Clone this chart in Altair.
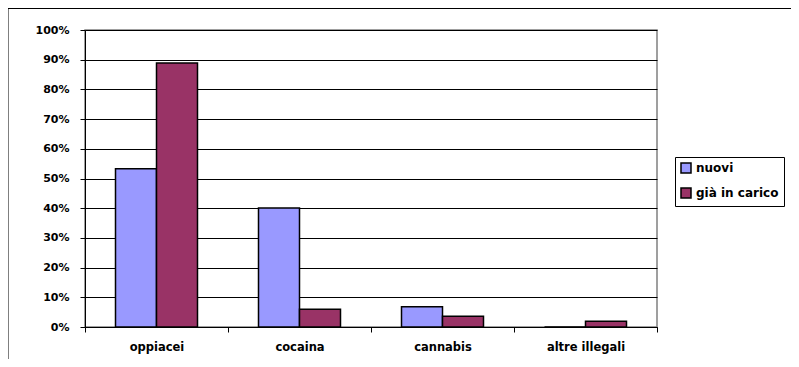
import altair as alt
import pandas as pd

categories = ["oppiacei", "cocaina", "cannabis", "altre illegali"]
series = ["nuovi", "già in carico"]
nuovi = [0.533, 0.401, 0.068, 0.0]
gia = [0.889, 0.060, 0.036, 0.019]
colors = ["#9999FF", "#993366"]
y_ticks = [i / 10 for i in range(11)]

rows = []
for c, a, b in zip(categories, nuovi, gia):
    rows.append({"categoria": c, "serie": series[0], "valore": a})
    rows.append({"categoria": c, "serie": series[1], "valore": b})
df = pd.DataFrame(rows)

FONT = "DejaVu Sans"

frame = alt.Chart(pd.DataFrame({"a": [0]})).mark_rect(
    fill="white", fillOpacity=0, stroke="black", strokeWidth=1
).encode(
    x=alt.value(-77), x2=alt.value(740), y=alt.value(-21.5), y2=alt.value(360)
)

bars = alt.Chart(df).mark_bar(stroke="black", strokeWidth=1.5).encode(
    x=alt.X(
        "categoria:N",
        sort=categories,
        title=None,
        scale=alt.Scale(paddingInner=0, paddingOuter=0),
        axis=alt.Axis(
            labelAngle=0,
            tickBand="extent",
            tickSize=5,
            tickColor="black",
            domainColor="black",
            labelFont=FONT,
            labelFontWeight="bold",
            labelFontSize=11.5,
            labelColor="black",
            labelPadding=9,
            grid=False,
        ),
    ),
    xOffset=alt.XOffset(
        "serie:N", sort=series, scale=alt.Scale(paddingInner=0, paddingOuter=0.744)
    ),
    y=alt.Y(
        "valore:Q",
        title=None,
        scale=alt.Scale(domain=[0, 1]),
        axis=alt.Axis(
            values=y_ticks,
            format=".0%",
            tickSize=5,
            tickColor="black",
            domainColor="black",
            gridColor="black",
            gridWidth=1,
            gridOpacity=1,
            labelFont=FONT,
            labelFontWeight="bold",
            labelFontSize=11,
            labelColor="black",
            labelPadding=11,
        ),
    ),
    color=alt.Color(
        "serie:N",
        sort=series,
        scale=alt.Scale(domain=series, range=colors),
        legend=alt.Legend(
            title=None,
            orient="none",
            legendX=590,
            legendY=127,
            symbolType="square",
            symbolSize=100,
            symbolStrokeColor="black",
            symbolStrokeWidth=1.5,
            labelFont=FONT,
            labelFontWeight="bold",
            labelFontSize=12,
            labelColor="black",
            strokeColor="black",
            fillColor="white",
            padding=5,
            rowPadding=9,
            labelOffset=4,
        ),
    ),
)

chart = alt.layer(frame, bars).properties(
    width=572,
    height=297,
    autosize=alt.AutoSizeParams(type="none"),
    padding={"left": 77, "top": 22, "right": 134, "bottom": 32},
    background="white",
).configure_view(stroke="#808080", strokeWidth=1.5)

chart.save("out.html", embed_options={"renderer": "svg", "actions": False})
